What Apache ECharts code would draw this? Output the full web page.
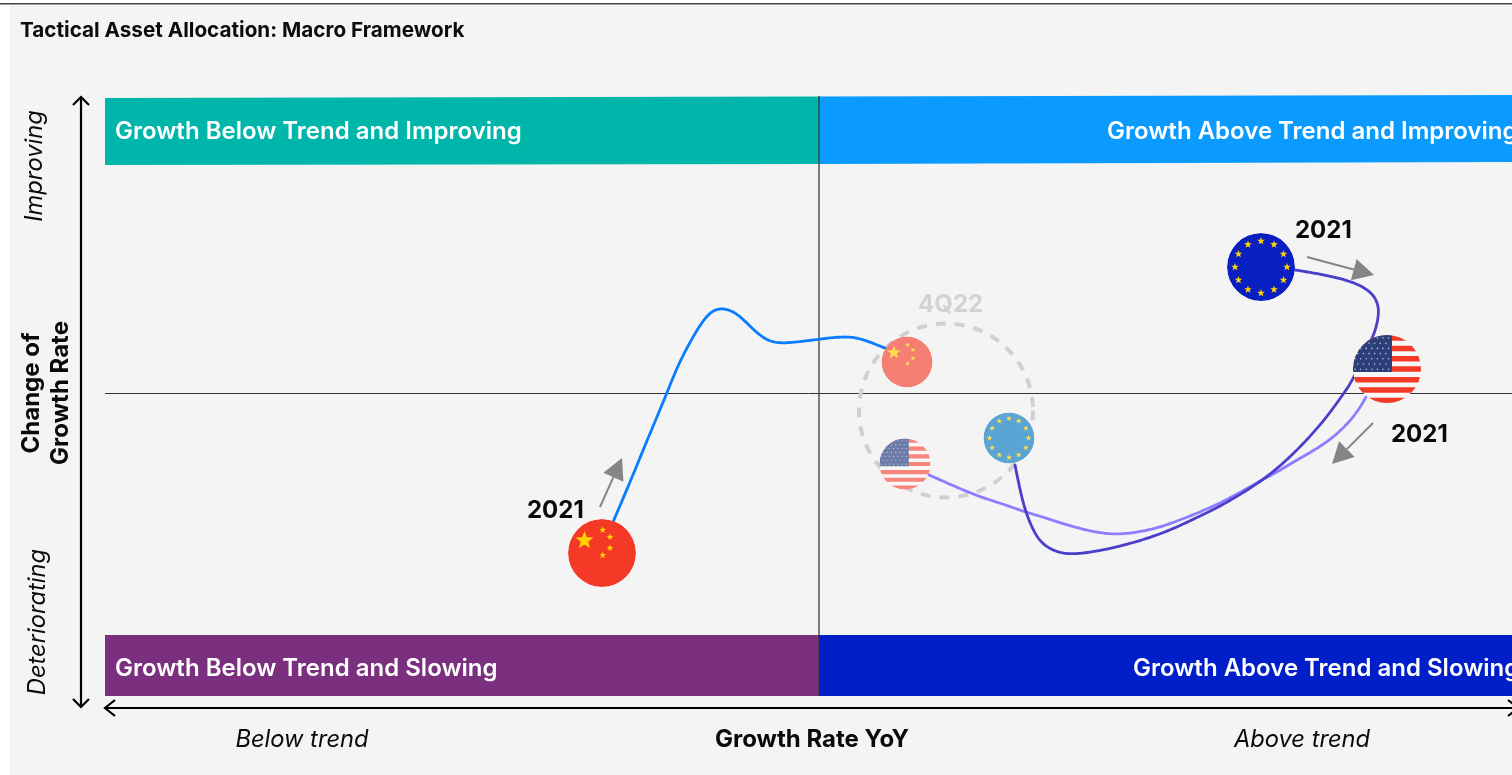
<!DOCTYPE html>
<html><head><meta charset="utf-8">
<style>html,body{margin:0;padding:0;background:#fff}#c{width:1512px;height:775px}</style>
<script src="https://cdn.jsdelivr.net/npm/echarts@6/dist/echarts.min.js"></script>
</head><body><div id="c"></div>
<script>
// ---- values, in schematic units (0,0 = on trend, no change) ----
const titleText = 'Tactical Asset Allocation: Macro Framework';
const bandNames = ['Growth Below Trend and Improving','Growth Above Trend and Improving','Growth Below Trend and Slowing','Growth Above Trend and Slowing'];
const bandX0 = [-714, 0, -714, 0];
const bandX1 = [0, 693, 0, 693];
const bandY0L = [228, 229, -303, -303];
const bandY0R = [229, 231, -303, -303];
const bandY1L = [295, 296.5, -242, -242];
const bandY1R = [296.5, 298, -242, -242];
const bandLabelX = [-704, 288, -704, 314];
const bandLabelY = [261, 261, -276, -276];

const chinaX = [-206,-188,-171,-154,-142,-129,-116,-106,-96,-84,-72,-59,-46,-29,1,28,44,68];
const chinaY = [-129,-87,-45,-5,26,51,73,83,85,81,70,57,50,50,54,57,54,44];
const euroX = [476,501,524,541,553,559,560,556,552,534,525,508,488,468,448,424,398,381,348,314,281,251,234,221,213,206,201,196];
const euroY = [123,119,114,108,100,90,78,61,53,13,0,-24,-47,-67,-84,-100,-115,-123,-139,-150,-158,-162,-158,-149,-135,-117,-97,-72];
const usX = [547,538,521,501,478,458,434,404,381,354,328,298,274,248,224,206,181,161,137,108];
const usY = [-4,-20,-39,-54,-67,-79,-92,-109,-119,-130,-138,-142,-139,-132,-124,-119,-110,-104,-94,-81];

const flagKinds = ['cn','eu','us','cn','eu','us'];
const flagX = [-217,442,568,88,190,86];
const flagY = [-160,126,24,31,-45,-71];
const flagFaded = [0,0,0,1,1,1];

const arrowX0 = [-219,488,554];
const arrowY0 = [-114,136,-30];
const arrowX1 = [-197,555,513];
const arrowY1 = [-65,118,-71];

const ringCentre = [127,-17.5];
const ringRadius = 87;

const yearLabels = ['2021','2021','2021','4Q22'];
const yearX = [-292,476,572,99];
const yearY = [-118,162,-42,88];

const axisWords = ['Below trend','Growth Rate YoY','Above trend','Improving','Change of\nGrowth Rate','Deteriorating'];
const axisWordX = [-517,-7,483,-784,-773,-781];
const axisWordY = [-347,-347,-347,227,0,-229];

// ---- styles ----
const FONT = 'Inter, "Noto Sans", sans-serif';
const bandColors = ['#00B5A9','#0B9BFF','#7A307E','#001FC8'];
const palettes = {
  0:{red:'#F43A26',yellow:'#FFD200',navy:'#0A1FC2',canton:'#2C3F78',stripe:'#F43A26',dot:'#B9C2DA'},
  1:{red:'#F67F74',yellow:'#FFDD50',navy:'#5AA5D3',canton:'#6D7CA6',stripe:'#F7857B',dot:'#C9D0E2'}
};
function star(cx,cy,R){
  const p=[];
  for(let i=0;i<10;i++){
    const r=i%2?R*0.42:R, a=-Math.PI/2+i*Math.PI/5;
    p.push([cx+r*Math.cos(a),cy+r*Math.sin(a)]);
  }
  return p;
}
function flagChildren(kind,R,pal){
  const k=R/34, c=[];
  const starEl=(x,y,r)=>({type:'polygon',shape:{points:star(x*k,y*k,r*k)},style:{fill:pal.yellow}});
  if(kind==='cn'){
    c.push({type:'circle',shape:{cx:0,cy:0,r:R},style:{fill:pal.red}});
    c.push(starEl(-17.5,-12.5,9.5));
    [[0.7,-23],[8,-16],[8,-5],[0.7,2.3]].forEach(s=>c.push(starEl(s[0],s[1],3.5)));
  } else if(kind==='eu'){
    c.push({type:'circle',shape:{cx:0,cy:0,r:R},style:{fill:pal.navy}});
    for(let i=0;i<12;i++){const a=i*Math.PI/6;c.push(starEl(26*Math.cos(a),26*Math.sin(a),4));}
  } else {
    c.push({type:'circle',shape:{cx:0,cy:0,r:R},style:{fill:'#F7F7F7'}});
    [-33.7,-23.3,-13,-2.7,8,18.3,28.7].forEach(y=>c.push({type:'rect',shape:{x:-R,y:y*k,width:2*R,height:5.5*k},style:{fill:pal.stripe}}));
    c.push({type:'rect',shape:{x:-R,y:-R,width:R+5*k,height:R+3*k},style:{fill:pal.canton}});
    for(let row=0;row<7;row++){for(let col=0;col<7;col++){
      const x=-32+col*5.6+(row%2?2.8:0), y=-31+row*5.2;
      if(x<4) c.push({type:'circle',shape:{cx:x*k,cy:y*k,r:0.8*k},style:{fill:pal.dot}});
    }}
  }
  return c;
}
// cubic B-spline through the read values, mapped through the chart's scales
function spline(px){
  const P=[px[0],px[0],...px,px[px.length-1],px[px.length-1]], out=[];
  for(let i=1;i<P.length-2;i++){
    for(let s=0;s<10;s++){
      const t=s/10,t2=t*t,t3=t2*t;
      const b0=(1-3*t+3*t2-t3)/6,b1=(4-6*t2+3*t3)/6,b2=(1+3*t+3*t2-3*t3)/6,b3=t3/6;
      out.push([0,1].map(d=>b0*P[i-1][d]+b1*P[i][d]+b2*P[i+1][d]+b3*P[i+2][d]));
    }
  }
  out.push(px[px.length-1]);
  return out;
}
const chart = echarts.init(document.getElementById('c'),null,{renderer:'canvas'});
const pathSeries=(name,xs,ys,color,width)=>({
  name,type:'custom',coordinateSystem:'cartesian2d',silent:true,z:4,clip:false,
  data:xs.map((x,i)=>[x,ys[i]]),encode:{x:0,y:1},
  renderItem:(p,api)=>{
    if(p.dataIndex!==0) return null;
    return {type:'polyline',shape:{points:spline(xs.map((x,i)=>api.coord([x,ys[i]])))},
      style:{stroke:color,lineWidth:width,fill:null,lineJoin:'round',lineCap:'round'}};
  }
});
chart.setOption({
  animation:false,
  backgroundColor:'#fff',
  title:{text:titleText,left:15,top:15,textStyle:{fontFamily:FONT,fontWeight:700,fontSize:20.7,color:'#0c0c0c'}},
  graphic:[
    {type:'rect',z:-10,silent:true,shape:{x:10,y:4,width:1502,height:771},style:{fill:'#F4F4F4'}},
    {type:'rect',z:-9,silent:true,shape:{x:0,y:3,width:1512,height:1.5},style:{fill:'#444'}}
  ],
  grid:{left:0,top:30,width:1512,height:726,containLabel:false},
  xAxis:{type:'value',min:-819,max:693,show:false},
  yAxis:{type:'value',min:-363,max:363,show:false},
  series:[
    {name:'Quadrant bands',type:'custom',coordinateSystem:'cartesian2d',silent:true,z:1,clip:false,
     data:bandNames.map((n,i)=>[bandX0[i],bandY0L[i]]),encode:{x:0,y:1},
     renderItem:(p,api)=>{const i=p.dataIndex;
       const pts=[[bandX0[i],bandY1L[i]],[bandX1[i],bandY1R[i]],[bandX1[i],bandY0R[i]],[bandX0[i],bandY0L[i]]].map(q=>api.coord(q));
       const lp=api.coord([bandLabelX[i],bandLabelY[i]]);
       return {type:'group',children:[
         {type:'polygon',shape:{points:pts},style:{fill:bandColors[i]}},
         {type:'text',x:lp[0],y:lp[1],style:{text:bandNames[i],fill:'#fff',font:'600 24px '+FONT,textAlign:'left',textVerticalAlign:'middle'}}
       ]};
     }},
    {name:'Frame',type:'custom',coordinateSystem:'cartesian2d',silent:true,z:2,clip:false,
     data:[[0,0]],encode:{x:0,y:1},
     renderItem:(p,api)=>{
       const v0=api.coord([0,297]),v1=api.coord([0,-303]),h0=api.coord([-714,-0.5]),h1=api.coord([693,-0.5]);
       const ax=api.coord([-738,296]),ay=api.coord([-738,-314]);
       const bx0=api.coord([-714,-315]),bx1=api.coord([699,-315]);
       const s={stroke:'#000',lineWidth:2.2,fill:null};
       const pl=(pts,st)=>({type:'polyline',shape:{points:pts},style:st});
       return {type:'group',children:[
         pl([v0,v1],{stroke:'rgba(50,50,50,0.62)',lineWidth:2,fill:null}),
         pl([h0,h1],{stroke:'#333',lineWidth:1,fill:null}),
         pl([ax,ay],s),
         pl([[ax[0]-8,ax[1]+8],ax,[ax[0]+8,ax[1]+8]],s),
         pl([[ay[0]-8,ay[1]-8],ay,[ay[0]+8,ay[1]-8]],s),
         pl([bx0,bx1],s),
         pl([[bx0[0]+10,bx0[1]-8],bx0,[bx0[0]+10,bx0[1]+8]],s),
         pl([[bx1[0]-10,bx1[1]-8],bx1,[bx1[0]-10,bx1[1]+8]],s)
       ]};
     }},
    {name:'4Q22 ring',type:'custom',coordinateSystem:'cartesian2d',silent:true,z:3,clip:false,
     data:[ringCentre],encode:{x:0,y:1},
     renderItem:(p,api)=>{const c=api.coord(ringCentre);
       return {type:'circle',shape:{cx:c[0],cy:c[1],r:ringRadius},style:{fill:null,stroke:'#D0D0D0',lineWidth:4,lineDash:[10,9]}};
     }},
    pathSeries('China',chinaX,chinaY,'#0A7CFF',2.8),
    pathSeries('US',usX,usY,'#8F7DFF',2.8),
    pathSeries('Euro area',euroX,euroY,'#4A3FCB',2.8),
    {name:'Direction arrows',type:'custom',coordinateSystem:'cartesian2d',silent:true,z:5,clip:false,
     data:arrowX0.map((x,i)=>[x,arrowY0[i]]),encode:{x:0,y:1},
     renderItem:(p,api)=>{const i=p.dataIndex;
       const a=api.coord([arrowX0[i],arrowY0[i]]),b=api.coord([arrowX1[i],arrowY1[i]]);
       const dx=b[0]-a[0],dy=b[1]-a[1],L=Math.hypot(dx,dy),ux=dx/L,uy=dy/L;
       const hl=21,hw=11,bx=b[0]-ux*hl,by=b[1]-uy*hl;
       return {type:'group',children:[
         {type:'polyline',shape:{points:[a,[bx,by]]},style:{stroke:'#858585',lineWidth:2,fill:null}},
         {type:'polygon',shape:{points:[b,[bx-uy*hw,by+ux*hw],[bx+uy*hw,by-ux*hw]]},style:{fill:'#858585'}}
       ]};
     }},
    {name:'Flags',type:'custom',coordinateSystem:'cartesian2d',silent:true,z:6,clip:false,
     data:flagX.map((x,i)=>[x,flagY[i]]),encode:{x:0,y:1},
     renderItem:(p,api)=>{const i=p.dataIndex,c=api.coord([flagX[i],flagY[i]]);
       const R=flagFaded[i]?25.5:34;
       return {type:'group',x:c[0],y:c[1],
         clipPath:{type:'circle',shape:{cx:0,cy:0,r:R}},
         children:flagChildren(flagKinds[i],R,palettes[flagFaded[i]])};
     }},
    {name:'Point labels',type:'custom',coordinateSystem:'cartesian2d',silent:true,z:7,clip:false,
     data:yearLabels.map((t,i)=>[yearX[i],yearY[i]]),encode:{x:0,y:1},
     renderItem:(p,api)=>{const i=p.dataIndex,c=api.coord([yearX[i],yearY[i]]);
       return {type:'text',x:c[0],y:c[1],style:{text:yearLabels[i],fill:yearLabels[i]==='4Q22'?'#D2D2D2':'#0a0a0a',font:'700 24px '+FONT,textAlign:'left',textVerticalAlign:'middle'}};
     }},
    {name:'Axis words',type:'custom',coordinateSystem:'cartesian2d',silent:true,z:7,clip:false,
     data:axisWords.map((t,i)=>[axisWordX[i],axisWordY[i]]),encode:{x:0,y:1},
     renderItem:(p,api)=>{const i=p.dataIndex,c=api.coord([axisWordX[i],axisWordY[i]]);
       const bold=i===1||i===4;
       return {type:'text',x:c[0],y:c[1],rotation:i>2?Math.PI/2:0,
         style:{text:axisWords[i],fill:'#0a0a0a',font:(bold?'700 24px ':'italic 400 23.7px ')+FONT,textAlign:'center',textVerticalAlign:'middle',textLineHeight:29,lineHeight:29}};
     }}
  ]
});
</script></body></html>
